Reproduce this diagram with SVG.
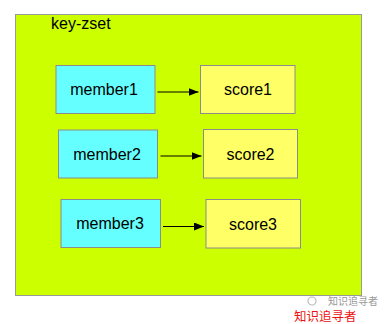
<svg xmlns="http://www.w3.org/2000/svg" width="389" height="324" viewBox="0 0 389 324">
<style>
.box{stroke:#8c8c8c;stroke-width:1}
.m{fill:#66ffff}
.s{fill:#ffff66}
text{font-family:"Liberation Sans",Arial,sans-serif;font-size:16px;fill:#000}
.c{text-anchor:middle}
.conn line{stroke:#000;stroke-width:1}
.wm{font-family:"Noto Sans CJK SC",sans-serif}
</style>
<defs>
<marker id="ah" viewBox="0 0 10 8" refX="10" refY="4" markerWidth="10" markerHeight="8" markerUnits="userSpaceOnUse" orient="auto">
<path d="M0,0 L10,4 L0,8 Z" fill="#000"/>
</marker>
</defs>
<rect width="389" height="324" fill="#fff"/>
<g id="key-zset">
<rect x="15.5" y="14.5" width="346" height="281" fill="#ccff00" stroke="#999" stroke-width="1"/>
<text x="51" y="29">key-zset</text>
</g>
<g id="member1"><rect class="box m" x="56" y="65.5" width="99" height="48"/><text class="c" x="104" y="95">member1</text></g>
<g id="member2"><rect class="box m" x="58.5" y="130" width="99" height="48"/><text class="c" x="107" y="160">member2</text></g>
<g id="member3"><rect class="box m" x="61" y="199.5" width="99.5" height="48"/><text class="c" x="110" y="229">member3</text></g>
<g id="score1"><rect class="box s" x="200.5" y="65.5" width="94.5" height="48"/><text class="c" x="248" y="95">score1</text></g>
<g id="score2"><rect class="box s" x="203.5" y="129.5" width="94" height="48.5"/><text class="c" x="250.5" y="160">score2</text></g>
<g id="score3"><rect class="box s" x="206" y="199.5" width="94.5" height="48.5"/><text class="c" x="253" y="230">score3</text></g>
<g class="conn" id="connectors">
<line x1="157.5" y1="92" x2="198.5" y2="92" marker-end="url(#ah)"/>
<line x1="160.5" y1="156" x2="201.5" y2="156" marker-end="url(#ah)"/>
<line x1="163" y1="226.5" x2="204" y2="226.5" marker-end="url(#ah)"/>
</g>
<g id="watermark">
<circle cx="312" cy="301" r="4" fill="none" stroke="#bbb" stroke-width="1.2"/>
<text class="wm" x="328" y="304.5" style="font-size:10px;fill:#999">知识追寻者</text>
<text class="wm" x="294" y="320.5" style="font-size:12.5px;fill:#ee1111">知识追寻者</text>
</g>
</svg>
